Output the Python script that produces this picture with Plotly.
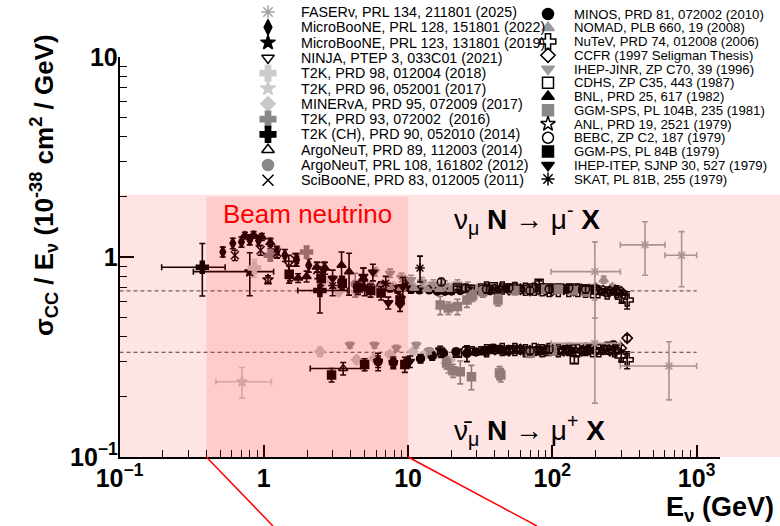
import math
import plotly.graph_objects as go

W, H = 780, 526
FONT = "Liberation Sans, Arial, Helvetica, sans-serif"

# ---------------------------------------------------------------- axes frame
X_RANGE = [-1.0, 3.162]          # log10(E / GeV)
Y_RANGE = [-1.0, 1.0]            # log10(sigma/E)
X_DOM = [119.5 / W, 720.0 / W]
Y_DOM = [69.0 / H, 469.0 / H]

X_TICKS = [0.1, 1, 10, 100, 1000]
X_TICKTEXT = ["10<sup>\u22121</sup>", "1", "10", "10<sup>2</sup>", "10<sup>3</sup>"]
Y_TICKS = [0.1, 1, 10]
Y_TICKTEXT = ["10<sup>\u22121</sup>", "1", "10"]

# world averages of sigma/E (dashed lines)
NU_AVG = 0.677
NUBAR_AVG = 0.334
AVG_E = [0.1, 1000]

# shaded energy regions
BEAM_E = [0.4, 10]
BAND_TOP = 2.05
BEAM_TOP = 2.0

# ---------------------------------------------------------------- data
# point formats: (E, sigma/E, err) | (E, sigma/E, err_up, err_dn) |
#                (E, sigma/E, err_up, err_dn, E_low, E_high)
FASER = [(197, 0.845, 0.345, 0.35, 98, 296), (439, 1.15, 0.35, 0.34, 296, 604),
         (787, 1.02, 0.32, 0.31, 604, 1000),
         (197, 0.37, 0.24, 0.184, 98, 296), (643, 0.285, 0.092, 0.092, 296, 1000)]
MUB22 = [(0.52, 1.06, 0.06), (0.61, 1.17, 0.07), (0.70, 1.19, 0.07), (0.80, 1.22, 0.07),
         (0.92, 1.21, 0.07), (1.11, 1.17, 0.07), (1.23, 1.06, 0.07), (1.40, 1.02, 0.07),
         (1.69, 0.97, 0.07), (2.05, 0.91, 0.07), (2.6, 0.86, 0.08)]
MUB19 = [(0.80, 0.845, 0.205, 0.205, 0.325, 1.17)]
NINJA = [(1.49, 0.93, 0.09)]
T2K18 = [(0.86, 0.88, 0.09)]
T2K17 = [(0.707, 0.238, 0.042, 0.041, 0.466, 1.13)]
MINERVA = [(2.6, 0.76, 0.04), (3.3, 0.67, 0.03), (4.4, 0.67, 0.03), (5.9, 0.684, 0.03),
           (7.9, 0.71, 0.03), (10.6, 0.725, 0.03), (13.4, 0.71, 0.03), (16.7, 0.71, 0.03),
           (19.9, 0.70, 0.03),
           (2.45, 0.336, 0.018), (4.4, 0.306, 0.013), (5.85, 0.313, 0.012), (7.5, 0.325, 0.012),
           (10.8, 0.336, 0.012), (13.4, 0.33, 0.012), (15.8, 0.33, 0.012), (18.5, 0.295, 0.012),
           (19.5, 0.306, 0.012)]
T2K16 = [(1.11, 1.02, 0.06), (1.98, 1.06, 0.07)]
T2KCH = [(0.375, 0.888, 0.28, 0.25, 0.196, 0.54), (2.45, 0.68, 0.13, 0.155, 1.72, 3.8)]
ARGO14 = [(9.6, 0.74, 0.05), (3.55, 0.277, 0.02, 0.02, 2.1, 5.0)]
ARGO12 = [(4.3, 0.73, 0.1)]
SCIBOONE = [(0.63, 1.02, 0.06), (0.95, 1.08, 0.06), (1.24, 1.05, 0.06), (1.65, 0.97, 0.07),
            (2.35, 0.86, 0.08)]
MINOS = [(3.48, 0.75, 0.05), (4.48, 0.71, 0.04), (5.49, 0.71, 0.03), (6.49, 0.72, 0.03),
         (7.49, 0.70, 0.03), (8.47, 0.69, 0.03), (9.47, 0.71, 0.03), (10.5, 0.69, 0.03),
         (12.0, 0.685, 0.02), (14.0, 0.685, 0.02), (16.0, 0.675, 0.02), (18.0, 0.675, 0.02),
         (20.0, 0.676, 0.02), (23.0, 0.68, 0.02), (27.0, 0.674, 0.02), (32.0, 0.673, 0.02),
         (37.0, 0.679, 0.02), (42.0, 0.685, 0.02),
         (6.2, 0.30, 0.02), (7.9, 0.296, 0.015), (9.9, 0.30, 0.015), (12.2, 0.31, 0.015),
         (14.7, 0.32, 0.015), (17.6, 0.33, 0.012), (21.5, 0.336, 0.012), (25.6, 0.33, 0.03),
         (29.5, 0.335, 0.012), (34.0, 0.34, 0.012), (38.5, 0.35, 0.012), (44.0, 0.345, 0.012)]
NOMAD = [(4.6, 0.74, 0.02), (5.5, 0.72, 0.02), (6.5, 0.71, 0.02), (7.5, 0.71, 0.02),
         (9.0, 0.70, 0.015), (11, 0.70, 0.015), (13.5, 0.69, 0.015), (16.5, 0.69, 0.015),
         (20, 0.69, 0.015), (25, 0.69, 0.015), (30, 0.70, 0.015), (37, 0.69, 0.015),
         (45, 0.69, 0.015), (55, 0.69, 0.015), (65, 0.69, 0.015), (75, 0.70, 0.015),
         (85, 0.69, 0.015), (95, 0.69, 0.015), (110, 0.69, 0.015), (125, 0.70, 0.015),
         (140, 0.69, 0.015), (160, 0.70, 0.015), (180, 0.70, 0.015), (200, 0.71, 0.02),
         (227, 0.77, 0.03), (260, 0.71, 0.02)]
NUTEV = [(35, 0.70, 0.012), (45, 0.70, 0.012), (55, 0.695, 0.012), (65, 0.69, 0.012),
         (75, 0.69, 0.012), (85, 0.685, 0.012), (95, 0.68, 0.012), (110, 0.68, 0.012),
         (130, 0.68, 0.012), (150, 0.68, 0.012), (170, 0.675, 0.015), (190, 0.67, 0.015),
         (207, 0.67, 0.02), (240, 0.66, 0.025), (280, 0.67, 0.03), (302, 0.63, 0.04),
         (330, 0.61, 0.06),
         (35, 0.34, 0.008), (45, 0.345, 0.008), (55, 0.345, 0.008), (65, 0.34, 0.008),
         (75, 0.345, 0.008), (85, 0.34, 0.008), (95, 0.345, 0.008), (110, 0.34, 0.008),
         (130, 0.345, 0.008), (150, 0.34, 0.008), (170, 0.345, 0.01), (190, 0.34, 0.01),
         (210, 0.34, 0.012), (240, 0.35, 0.012), (270, 0.34, 0.015), (300, 0.32, 0.02),
         (330, 0.306, 0.03)]
CCFR = [(40, 0.69, 0.01), (50, 0.685, 0.01), (60, 0.69, 0.01), (70, 0.68, 0.01),
        (80, 0.69, 0.01), (90, 0.685, 0.01), (100, 0.68, 0.01), (120, 0.69, 0.01),
        (140, 0.68, 0.01), (160, 0.685, 0.01), (180, 0.68, 0.012), (200, 0.69, 0.012),
        (225, 0.68, 0.015), (250, 0.675, 0.015), (275, 0.68, 0.02), (300, 0.67, 0.02),
        (40, 0.345, 0.006), (50, 0.34, 0.006), (60, 0.345, 0.006), (70, 0.34, 0.006),
        (80, 0.345, 0.006), (90, 0.34, 0.006), (100, 0.345, 0.006), (120, 0.34, 0.006),
        (140, 0.345, 0.006), (160, 0.34, 0.008), (180, 0.345, 0.008), (200, 0.34, 0.008),
        (225, 0.345, 0.01), (250, 0.34, 0.01), (275, 0.345, 0.012), (300, 0.35, 0.012),
        (330, 0.393, 0.015)]
IHEPJINR = [(5.9, 0.845, 0.04), (7.5, 0.83, 0.04), (9.0, 0.79, 0.04), (10.5, 0.77, 0.04),
            (12.5, 0.75, 0.04), (15, 0.73, 0.04), (18, 0.72, 0.04), (22, 0.73, 0.04),
            (26, 0.71, 0.04),
            (3.95, 0.363, 0.012), (5.85, 0.363, 0.012), (8.3, 0.35, 0.012), (11.4, 0.363, 0.012),
            (14.0, 0.34, 0.012), (19.0, 0.283, 0.02)]
CDHS = [(22, 0.70, 0.015), (27, 0.69, 0.015), (33, 0.70, 0.015), (39, 0.71, 0.015),
        (46, 0.70, 0.015), (54, 0.70, 0.015), (63, 0.69, 0.015), (73, 0.70, 0.015),
        (81, 0.74, 0.02), (95, 0.70, 0.015), (110, 0.70, 0.015), (125, 0.69, 0.015),
        (145, 0.70, 0.015), (165, 0.69, 0.015), (185, 0.69, 0.015),
        (22, 0.33, 0.01), (27, 0.34, 0.01), (33, 0.34, 0.01), (40, 0.345, 0.01),
        (48, 0.34, 0.01), (57, 0.345, 0.01), (67, 0.34, 0.01), (80, 0.34, 0.01),
        (95, 0.345, 0.01), (110, 0.34, 0.01), (125, 0.345, 0.01), (142, 0.306, 0.012),
        (165, 0.34, 0.01), (185, 0.345, 0.01)]
BNL = [(0.74, 1.28, 0.05), (0.85, 1.29, 0.05), (0.97, 1.26, 0.05), (1.11, 1.18, 0.05),
       (1.52, 0.80, 0.04), (1.73, 0.785, 0.04), (1.98, 0.80, 0.05), (2.33, 0.89, 0.05),
       (2.66, 0.88, 0.06), (3.46, 0.91, 0.15), (3.9, 0.845, 0.2), (4.9, 0.78, 0.1)]
GGMSPS = [(16.7, 0.575, 0.06), (19, 0.556, 0.04), (22, 0.565, 0.05), (25.6, 0.61, 0.05),
          (28, 0.64, 0.04), (33, 0.67, 0.04), (42, 0.61, 0.04), (55, 0.68, 0.03),
          (70, 0.68, 0.03), (90, 0.69, 0.03), (110, 0.69, 0.03), (140, 0.68, 0.03),
          (170, 0.67, 0.03),
          (18.5, 0.295, 0.02), (20.5, 0.27, 0.02), (23, 0.267, 0.035), (27.5, 0.252, 0.035),
          (43, 0.263, 0.02), (44, 0.257, 0.02), (70, 0.33, 0.015), (100, 0.34, 0.015)]
ANL = [(1.07, 0.77, 0.035)]
BEBC = [(17, 0.75, 0.03), (25, 0.70, 0.03), (35, 0.69, 0.03), (50, 0.70, 0.03),
        (70, 0.68, 0.03), (95, 0.69, 0.03), (130, 0.70, 0.03), (170, 0.69, 0.03),
        (17, 0.33, 0.015), (25, 0.34, 0.015), (35, 0.34, 0.015), (50, 0.345, 0.015),
        (70, 0.34, 0.015), (95, 0.345, 0.015), (130, 0.34, 0.015), (180, 0.35, 0.015),
        (265, 0.363, 0.015)]
GGMPS = [(1.5, 0.82, 0.08), (2.5, 0.78, 0.06), (3.5, 0.74, 0.05), (4.5, 0.70, 0.05),
         (5.5, 0.68, 0.05), (6.5, 0.66, 0.05), (8.8, 0.61, 0.04),
         (2.95, 0.257, 0.02), (5.0, 0.29, 0.02), (9.5, 0.29, 0.025)]
IHEPITEP = [(3.0, 0.78, 0.08), (4.9, 0.80, 0.08), (5.7, 0.84, 0.08), (7.3, 0.59, 0.04),
            (8.8, 0.575, 0.04), (9.2, 0.71, 0.08),
            (6.2, 0.30, 0.03), (7.9, 0.296, 0.02), (10.3, 0.30, 0.02), (16.7, 0.343, 0.015)]
SKAT = [(3.0, 0.72, 0.08), (5.0, 0.70, 0.06), (7.0, 0.74, 0.06), (12.1, 0.88, 0.13)]

BLACK = "#000000"
# (legend label, symbol, colour, points)
LEFT_COLUMN = [
    ("FASERv, PRL 134, 211801 (2025)", "asterisk-open", "#a4a4a4", FASER),
    ("MicroBooNE, PRL 128, 151801 (2022)", "diamond-tall", BLACK, MUB22),
    ("MicroBooNE, PRL 123, 131801 (2019)", "star", BLACK, MUB19),
    ("NINJA, PTEP 3, 033C01 (2021)", "triangle-down-open", BLACK, NINJA),
    ("T2K, PRD 98, 012004 (2018)", "cross", "#cccccc", T2K18),
    ("T2K, PRD 96, 052001 (2017)", "star", "#cccccc", T2K17),
    ("MINERvA, PRD 95, 072009 (2017)", "diamond", "#c8c8c8", MINERVA),
    ("T2K, PRD 93, 072002  (2016)", "cross", "#888888", T2K16),
    ("T2K (CH), PRD 90, 052010 (2014)", "cross", BLACK, T2KCH),
    ("ArgoNeuT, PRD 89, 112003 (2014)", "triangle-up-open", BLACK, ARGO14),
    ("ArgoNeuT, PRL 108, 161802 (2012)", "circle", "#888888", ARGO12),
    ("SciBooNE, PRD 83, 012005 (2011)", "x-thin-open", BLACK, SCIBOONE),
]
RIGHT_COLUMN = [
    ("MINOS, PRD 81, 072002 (2010)", "circle", BLACK, MINOS),
    ("NOMAD, PLB 660, 19 (2008)", "triangle-up", "#999999", NOMAD),
    ("NuTeV, PRD 74, 012008 (2006)", "cross-open", BLACK, NUTEV),
    ("CCFR (1997 Seligman Thesis)", "diamond-open", BLACK, CCFR),
    ("IHEP-JINR, ZP C70, 39 (1996)", "triangle-down", "#999999", IHEPJINR),
    ("CDHS, ZP C35, 443 (1987)", "square-open", BLACK, CDHS),
    ("BNL, PRD 25, 617 (1982)", "triangle-up", BLACK, BNL),
    ("GGM-SPS, PL 104B, 235 (1981)", "square", "#888888", GGMSPS),
    ("ANL, PRD 19, 2521 (1979)", "star-open", BLACK, ANL),
    ("BEBC, ZP C2, 187 (1979)", "circle-open", BLACK, BEBC),
    ("GGM-PS, PL 84B (1979)", "square", BLACK, GGMPS),
    ("IHEP-ITEP, SJNP 30, 527 (1979)", "triangle-down", BLACK, IHEPITEP),
    ("SKAT, PL 81B, 255 (1979)", "asterisk-open", BLACK, SKAT),
]


def to_paper_x(e):
    f = (math.log10(e) - X_RANGE[0]) / (X_RANGE[1] - X_RANGE[0])
    return X_DOM[0] + f * (X_DOM[1] - X_DOM[0])


def to_paper_y(v):
    f = (math.log10(v) - Y_RANGE[0]) / (Y_RANGE[1] - Y_RANGE[0])
    return Y_DOM[0] + f * (Y_DOM[1] - Y_DOM[0])


def marker_size(symbol, base):
    return base + 2 if symbol.startswith("cross") else base


fig = go.Figure()

# dashed average lines
for level in (NU_AVG, NUBAR_AVG):
    fig.add_trace(go.Scatter(x=AVG_E, y=[level, level], mode="lines",
                             line=dict(color="#404040", width=1, dash="4px,3px"),
                             showlegend=False, hoverinfo="skip"))


def add_points(pts, symbol, color):
    plain = [p for p in pts if len(p) < 6]
    wide = [p for p in pts if len(p) == 6]
    for group, with_x in ((plain, False), (wide, True)):
        if not group:
            continue
        e = [p[0] for p in group]
        v = [p[1] for p in group]
        up = [p[2] for p in group]
        dn = [p[3] if len(p) > 3 else p[2] for p in group]
        kw = dict(
            x=e, y=v, mode="markers",
            marker=dict(symbol=symbol, size=marker_size(symbol, 8), color=color,
                        line=dict(color=color, width=1.5)),
            error_y=dict(type="data", symmetric=False, array=up, arrayminus=dn,
                         color=color, thickness=1.6, width=3),
            showlegend=False, hoverinfo="skip")
        if with_x:
            kw["error_x"] = dict(type="data", symmetric=False,
                                 array=[p[5] - p[0] for p in group],
                                 arrayminus=[p[0] - p[4] for p in group],
                                 color=color, thickness=1.6, width=3)
        fig.add_trace(go.Scatter(**kw))


entries = LEFT_COLUMN + RIGHT_COLUMN
# draw the measurements, FASER last so its wide crosses sit on top
for label, symbol, color, pts in entries[1:] + entries[:1]:
    add_points(pts, symbol, color)

# hand-placed two-column legend in pixel space (overlay axes x2/y2)
annotations = []
for col, (mx, tx, y0, dy, fs) in ((LEFT_COLUMN, (268, 300, 12.0, 15.3, 14.3)),
                                  (RIGHT_COLUMN, (548, 573, 14.0, 13.75, 13.2))):
    ys = [y0 + i * dy for i in range(len(col))]
    for (label, symbol, color, _), yy in zip(col, ys):
        fig.add_trace(go.Scatter(
            x=[mx], y=[yy], xaxis="x2", yaxis="y2", mode="markers",
            marker=dict(symbol=symbol, size=marker_size(symbol, 11), color=color,
                        line=dict(color=color, width=1.5)),
            showlegend=False, hoverinfo="skip"))
        annotations.append(dict(x=tx, y=yy, xref="x2", yref="y2", text=label,
                                showarrow=False, xanchor="left", yanchor="middle",
                                borderpad=0,
                                font=dict(family=FONT, size=fs, color="black")))

annotations += [
    dict(x=307, y=214, xref="x2", yref="y2", text="Beam neutrino", showarrow=False,
         font=dict(family=FONT, size=26, color="#ff0000"), xanchor="center", yanchor="middle"),
    dict(x=452, y=219, xref="x2", yref="y2",
         text="\u03bd<sub>\u03bc</sub> <b>N</b> \u2192 \u03bc<sup>-</sup> <b>X</b>",
         showarrow=False, font=dict(family=FONT, size=28, color="black"),
         xanchor="left", yanchor="middle"),
    dict(x=452, y=430, xref="x2", yref="y2",
         text="\u03bd\u0304<sub>\u03bc</sub> <b>N</b> \u2192 \u03bc<sup>+</sup> <b>X</b>",
         showarrow=False, font=dict(family=FONT, size=28, color="black"),
         xanchor="left", yanchor="middle"),
    dict(x=44, y=185, xref="x2", yref="y2", textangle=-90,
         text="<b>\u03c3<sub>CC</sub> / E<sub>\u03bd</sub> (10<sup>-38</sup> cm<sup>2</sup> / GeV)</b>",
         showarrow=False, font=dict(family=FONT, size=26, color="black"),
         xanchor="center", yanchor="middle"),
    dict(x=776, y=509, xref="x2", yref="y2", text="<b>E<sub>\u03bd</sub> (GeV)</b>",
         showarrow=False, font=dict(family=FONT, size=27, color="black"),
         xanchor="right", yanchor="middle"),
]

shapes = [
    # full data band and the beam-neutrino energy window, translucent red over the points
    dict(type="rect", xref="paper", yref="paper", x0=X_DOM[0], x1=1.0,
         y0=Y_DOM[0], y1=to_paper_y(BAND_TOP), fillcolor="rgba(255,0,0,0.106)",
         line=dict(width=0), layer="above"),
    dict(type="rect", xref="paper", yref="paper", x0=to_paper_x(BEAM_E[0]),
         x1=to_paper_x(BEAM_E[1]), y0=Y_DOM[0], y1=to_paper_y(BEAM_TOP),
         fillcolor="rgba(255,0,0,0.10)", line=dict(width=0), layer="above"),
    # zoom guide lines leading below the axis
    dict(type="line", xref="paper", yref="paper", x0=to_paper_x(BEAM_E[0]), y0=Y_DOM[0],
         x1=to_paper_x(1.158), y1=0, line=dict(color="#ff0000", width=1.5), layer="above"),
    dict(type="line", xref="paper", yref="paper", x0=to_paper_x(BEAM_E[1]), y0=Y_DOM[0],
         x1=to_paper_x(78.2), y1=0, line=dict(color="#ff0000", width=1.5), layer="above"),
]

x_minor = [k * 10 ** d for d in range(-1, 3) for k in range(2, 10)]
y_minor = [k * 10 ** d for d in range(-1, 1) for k in range(2, 10)]

fig.update_layout(
    template="none",
    width=W, height=H,
    margin=dict(l=0, r=0, t=0, b=0),
    paper_bgcolor="white", plot_bgcolor="rgba(0,0,0,0)",
    showlegend=False,
    font=dict(family=FONT, color="black"),
    xaxis=dict(type="log", range=X_RANGE, domain=X_DOM, anchor="y",
               showgrid=False, zeroline=False, showline=True, linecolor="black", linewidth=1.5,
               ticks="inside", ticklen=12, tickwidth=1.5, tickcolor="black",
               tickvals=X_TICKS, ticktext=["<b>%s</b>" % t for t in X_TICKTEXT],
               tickfont=dict(family=FONT, size=25, color="black"), ticklabelstandoff=-2,
               minor=dict(tickvals=x_minor, ticks="inside", ticklen=7, tickwidth=1.2,
                          tickcolor="black", showgrid=False)),
    yaxis=dict(type="log", range=Y_RANGE, domain=Y_DOM, anchor="x",
               showgrid=False, zeroline=False, showline=True, linecolor="black", linewidth=1.5,
               ticks="inside", ticklen=15, tickwidth=1.5, tickcolor="black",
               tickvals=Y_TICKS, ticktext=["<b>%s</b>" % t for t in Y_TICKTEXT],
               tickfont=dict(family=FONT, size=25, color="black"), ticklabelstandoff=-5,
               minor=dict(tickvals=y_minor, ticks="inside", ticklen=8, tickwidth=1.2,
                          tickcolor="black", showgrid=False)),
    xaxis2=dict(domain=[0, 1], range=[0, W], anchor="y2", visible=False, fixedrange=True),
    yaxis2=dict(domain=[0, 1], range=[H, 0], anchor="x2", visible=False, fixedrange=True),
    annotations=annotations,
    shapes=shapes,
)

fig.write_html("out.html")
